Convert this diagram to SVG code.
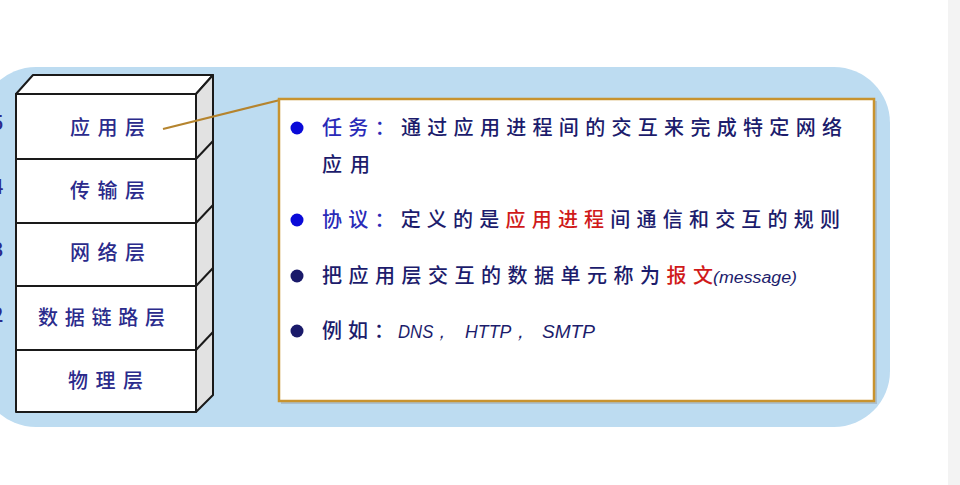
<svg xmlns="http://www.w3.org/2000/svg" width="960" height="485" viewBox="0 0 960 485">
<style>
.cjk{font-family:"Noto Sans CJK SC","Noto Sans",sans-serif;font-weight:500}
.layer{font-size:20px;fill:#2b2b8c}
.body{font-size:20px;fill:#1c1c6c}
.red{fill:#d01a1a}
.lat{font-family:"Liberation Sans",sans-serif;font-style:italic;fill:#1c1c6c}
.edge{stroke:#1a1a1a;stroke-width:2;stroke-linejoin:round}
</style>
<rect x="0" y="0" width="960" height="485" fill="#ffffff"/>
<rect x="948" y="0" width="12" height="485" fill="#f3f3f3"/>
<rect x="-20" y="67" width="910" height="360" rx="56" ry="56" fill="#bddcf1"/>
<g id="layer-numbers" class="cjk" font-size="20" fill="#2b2b8c">
<text x="-8" y="130">5</text>
<text x="-8" y="194">4</text>
<text x="-8" y="257">3</text>
<text x="-8" y="322">2</text>
</g>
<g id="stack">
<polygon points="16,94 33,75 213,75 196,94" fill="#ffffff" class="edge"/>
<polygon points="196,94 213,75 213,395 196,412" fill="#e2e2e2" class="edge"/>
<line x1="196" y1="159" x2="213" y2="141" class="edge"/>
<line x1="196" y1="223" x2="213" y2="205" class="edge"/>
<line x1="196" y1="286" x2="213" y2="268" class="edge"/>
<line x1="196" y1="350" x2="213" y2="332" class="edge"/>
</g>
<g id="app-layer"><rect x="16" y="94" width="180" height="65" fill="#ffffff" class="edge"/><text class="cjk layer" x="70" y="135" textLength="75" lengthAdjust="spacing">应用层</text></g>
<g id="transport-layer"><rect x="16" y="159" width="180" height="64" fill="#ffffff" class="edge"/><text class="cjk layer" x="70" y="198" textLength="75" lengthAdjust="spacing">传输层</text></g>
<g id="network-layer"><rect x="16" y="223" width="180" height="63" fill="#ffffff" class="edge"/><text class="cjk layer" x="70" y="260" textLength="75" lengthAdjust="spacing">网络层</text></g>
<g id="datalink-layer"><rect x="16" y="286" width="180" height="64" fill="#ffffff" class="edge"/><text class="cjk layer" x="38" y="325" textLength="127" lengthAdjust="spacing">数据链路层</text></g>
<g id="physical-layer"><rect x="16" y="350" width="180" height="62" fill="#ffffff" class="edge"/><text class="cjk layer" x="68" y="388" textLength="75" lengthAdjust="spacing">物理层</text></g>
<g id="connectors">
<line x1="163" y1="129" x2="280" y2="100" stroke="#b5842e" stroke-width="2.2"/>
</g>
<g id="info-box">
<rect x="281" y="101" width="596" height="303" fill="#8a8a8a" opacity="0.35"/>
<rect x="279" y="99" width="595" height="302" fill="#ffffff" stroke="#c8932f" stroke-width="2.5"/>
<circle cx="297" cy="128" r="6.5" fill="#0a0ad8"/>
<text class="cjk body" x="322" y="135" textLength="520" lengthAdjust="spacing"><tspan fill="#2a2ab8">任务：</tspan>通过应用进程间的交互来完成特定网络</text>
<text class="cjk body" x="322" y="172" textLength="48" lengthAdjust="spacing">应用</text>
<circle cx="297" cy="220" r="6.5" fill="#0a0ad8"/>
<text class="cjk body" x="322" y="227" textLength="518" lengthAdjust="spacing"><tspan fill="#2a2ab8">协议：</tspan>定义的是<tspan class="red">应用进程</tspan>间通信和交互的规则</text>
<circle cx="297" cy="276" r="6.5" fill="#1a1a6a"/>
<text class="cjk body" x="322" y="283" textLength="391" lengthAdjust="spacing">把应用层交互的数据单元称为<tspan class="red">报文</tspan></text>
<text class="lat" x="713" y="283" font-size="16" textLength="84" lengthAdjust="spacingAndGlyphs">(message)</text>
<circle cx="297" cy="331" r="6.5" fill="#1a1a6a"/>
<text class="cjk body" x="322" y="338" textLength="72" lengthAdjust="spacing">例如：</text>
<text class="lat" x="398" y="338" font-size="19" textLength="52" lengthAdjust="spacingAndGlyphs">DNS，</text>
<text class="lat" x="465" y="338" font-size="19" textLength="64" lengthAdjust="spacingAndGlyphs">HTTP，</text>
<text class="lat" x="542" y="338" font-size="19" textLength="53" lengthAdjust="spacingAndGlyphs">SMTP</text>
</g>
</svg>
